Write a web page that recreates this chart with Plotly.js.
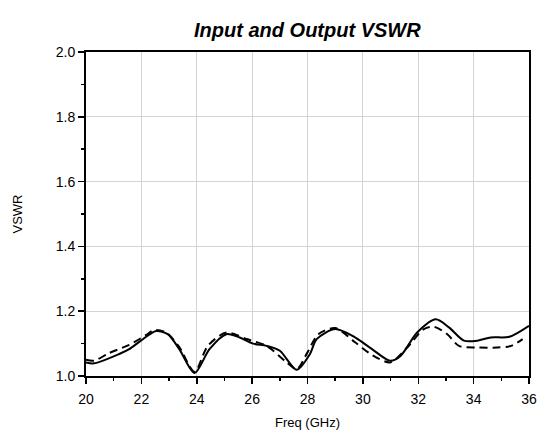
<!DOCTYPE html>
<html>
<head>
<meta charset="utf-8">
<script src="https://cdn.plot.ly/plotly-3.0.1.min.js"></script>
<style>html,body{margin:0;padding:0;background:#fff;}#chart{width:544px;height:434px;}</style>
</head>
<body>
<div id="chart"></div>
<script>
const solidFreq = [20, 20.29, 21.2, 21.56, 21.98, 22.53, 22.95, 23.37, 23.92, 24.46, 25.07, 25.55, 26.03, 26.52, 27.0, 27.61, 28.09, 28.33, 29.0, 29.66, 30.33, 30.99, 31.36, 31.96, 32.63, 33.11, 33.65, 34.14, 34.62, 35.29, 36.0];
const solidVSWR = [1.042, 1.039, 1.068, 1.083, 1.109, 1.139, 1.129, 1.083, 1.009, 1.083, 1.129, 1.119, 1.100, 1.093, 1.078, 1.019, 1.068, 1.114, 1.145, 1.122, 1.083, 1.047, 1.062, 1.134, 1.175, 1.150, 1.109, 1.109, 1.119, 1.121, 1.155];
const dashFreq = [20, 20.29, 20.84, 21.56, 22.16, 22.47, 22.9, 23.37, 23.92, 24.4, 25.07, 25.8, 26.52, 27.25, 27.61, 28.0, 28.39, 29.0, 29.72, 30.33, 30.99, 31.6, 32.2, 32.57, 33.05, 33.47, 34.14, 34.86, 35.35, 35.77];
const dashVSWR = [1.050, 1.047, 1.071, 1.096, 1.126, 1.142, 1.134, 1.089, 1.013, 1.093, 1.134, 1.114, 1.093, 1.042, 1.021, 1.073, 1.129, 1.148, 1.104, 1.065, 1.042, 1.088, 1.145, 1.152, 1.129, 1.093, 1.088, 1.088, 1.093, 1.114];
const xTicks = [20, 22, 24, 26, 28, 30, 32, 34, 36];
const yTicks = [1.0, 1.2, 1.4, 1.6, 1.8, 2.0];

const font = 'Arial, "Liberation Sans", sans-serif';
const traces = [
  {x: solidFreq, y: solidVSWR, mode: 'lines', line: {color: '#000', width: 2, shape: 'spline', smoothing: 0.8}, showlegend: false},
  {x: dashFreq, y: dashVSWR, mode: 'lines', line: {color: '#000', width: 2, dash: '8px,5px', shape: 'spline', smoothing: 0.8}, showlegend: false}
];
const layout = {
  width: 544, height: 434,
  margin: {l: 86, r: 15, t: 52, b: 58},
  paper_bgcolor: '#fff', plot_bgcolor: '#fff',
  font: {family: font, color: '#000', size: 13},
  title: {text: '<b><i>Input and Output VSWR</i></b>', font: {family: font, size: 20, color: '#000'}, x: 0.565, xanchor: 'center', y: 0.93, yanchor: 'middle'},
  xaxis: {
    range: [20, 36], tickvals: xTicks, ticktext: xTicks.map(String),
    showline: true, linecolor: '#000', linewidth: 2, mirror: true,
    ticks: 'outside', ticklen: 6, tickwidth: 1.5, tickcolor: '#000', ticklabelstandoff: 3,
    minor: {dtick: 1, ticks: 'outside', ticklen: 3, tickwidth: 1.5, tickcolor: '#000', showgrid: false},
    showgrid: true, gridcolor: '#d3d3d3', gridwidth: 1, zeroline: false,
    tickfont: {size: 14, family: font},
    title: {text: 'Freq (GHz)', font: {size: 13, family: font}, standoff: 12}
  },
  yaxis: {
    range: [1.0, 2.0], tickvals: yTicks, ticktext: yTicks.map(v => v.toFixed(1)),
    showline: true, linecolor: '#000', linewidth: 2, mirror: true,
    ticks: 'outside', ticklen: 6, tickwidth: 1.5, tickcolor: '#000',
    minor: {dtick: 0.1, ticks: 'outside', ticklen: 3, tickwidth: 1.5, tickcolor: '#000', showgrid: false},
    showgrid: true, gridcolor: '#d3d3d3', gridwidth: 1, zeroline: false,
    tickfont: {size: 14, family: font},
    title: {text: 'VSWR', font: {size: 13, family: font}, standoff: 30}
  }
};
Plotly.newPlot('chart', traces, layout, {displayModeBar: false, staticPlot: true});
</script>
</body>
</html>
